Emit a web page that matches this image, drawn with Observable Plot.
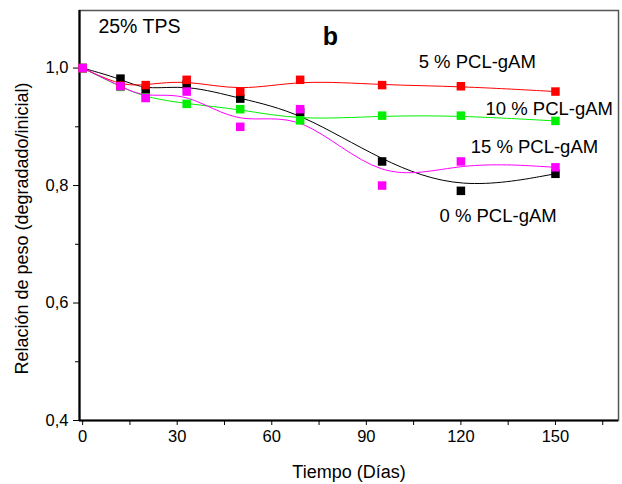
<!DOCTYPE html>
<html><head><meta charset="utf-8">
<script src="https://cdn.jsdelivr.net/npm/d3@7"></script>
<script src="https://cdn.jsdelivr.net/npm/@observablehq/plot@0.6"></script>
<style>
body{margin:0;background:#fff;}
</style>
</head><body><div id="chart"></div>
<script>
// Data
const days = [0, 12, 20, 33, 50, 69, 95, 120, 150];
const seriesNames = ["0 % PCL-gAM", "10 % PCL-gAM", "5 % PCL-gAM", "15 % PCL-gAM"];
const seriesColors = ["#000000", "#00f000", "#ff0000", "#ff00ff"];
const pcl0  = [1.000, 0.982, 0.962, 0.972, 0.948, 0.925, 0.841, 0.791, 0.820];
const pcl10 = [1.000, 0.968, 0.950, 0.939, 0.930, 0.911, 0.919, 0.919, 0.910];
const pcl5  = [1.000, 0.970, 0.971, 0.980, 0.960, 0.980, 0.971, 0.969, 0.960];
const pcl15 = [1.000, 0.969, 0.949, 0.960, 0.900, 0.930, 0.800, 0.841, 0.831];
const seriesValues = [pcl0, pcl10, pcl5, pcl15];

const xMajor = [0, 30, 60, 90, 120, 150];
const xMinor = [15, 45, 75, 105, 135, 165];
const yMajor = [0.4, 0.6, 0.8, 1.0];
const yMinor = [0.5, 0.7, 0.9];
const xTitle = "Tiempo (Días)";
const yTitle = "Relación de peso (degradado/inicial)";

// Annotations (data coordinates)
const noteText = ["25% TPS", "5 % PCL-gAM", "10 % PCL-gAM", "15 % PCL-gAM", "0 % PCL-gAM"];
const noteDay  = [5, 106.6, 127.8, 123.1, 113.2];
const noteVal  = [1.071, 1.011, 0.930, 0.866, 0.748];
const noteSize = [19.5, 18.5, 18.5, 18.5, 18.5];
const panelLetter = "b";

const rows = [];
seriesNames.forEach((name, s) => seriesValues[s].forEach((v, i) => rows.push({series: name, day: days[i], value: v})));
const notes = noteText.map((t, i) => ({text: t, day: noteDay[i], value: noteVal[i], size: noteSize[i]}));

const fmt = d => d.toFixed(1).replace(".", ",");
const xDom = [-1, 170], yDom = [0.4, 1.098];

const chart = Plot.plot({
  width: 622, height: 484,
  marginLeft: 79, marginRight: 4, marginTop: 10, marginBottom: 64,
  style: {fontFamily: "'Liberation Sans', Arial, sans-serif", fontSize: "16px", color: "#000", background: "#fff"},
  x: {domain: xDom},
  y: {domain: yDom},
  color: {domain: seriesNames, range: seriesColors},
  marks: [
    Plot.frame({stroke: "#555", strokeWidth: 1.5}),
    Plot.axisX({ticks: xMajor, tickSize: 5, tickPadding: 5, fontSize: 16.5, tickFormat: d => String(d), label: null}),
    Plot.axisX({ticks: xMinor, tickSize: 5, text: null, label: null}),
    Plot.axisY({ticks: yMajor, tickSize: 6, tickPadding: 5, fontSize: 16.5, tickFormat: fmt, label: null}),
    Plot.axisY({ticks: yMinor, tickSize: 4, text: null, label: null}),
    Plot.ruleX([xDom[0]], {stroke: "#000", strokeWidth: 2.2}),
    Plot.ruleY([yDom[0]], {stroke: "#000", strokeWidth: 2.2}),
    Plot.text([xTitle], {frameAnchor: "bottom", text: d => d, textAnchor: "middle", lineAnchor: "bottom", dy: 57, fontSize: 18}),
    Plot.text([yTitle], {frameAnchor: "left", text: d => d, textAnchor: "middle", lineAnchor: "middle", rotate: -90, dx: -57, dy: 13, fontSize: 18}),
    Plot.line(rows, {x: "day", y: "value", z: "series", stroke: "series", curve: "basis", strokeWidth: 1}),
    Plot.dot(rows, {x: "day", y: "value", fill: "series", symbol: "square", r: 4.8}),
    Plot.text(notes, {x: "day", y: "value", text: "text", textAnchor: "start", fontSize: d => d.size}),
    Plot.text([panelLetter], {x: 78.6, y: 1.053, text: d => d, fontSize: 25, fontWeight: "bold"})
  ]
});
document.getElementById("chart").appendChild(chart);
</script>
</body></html>
